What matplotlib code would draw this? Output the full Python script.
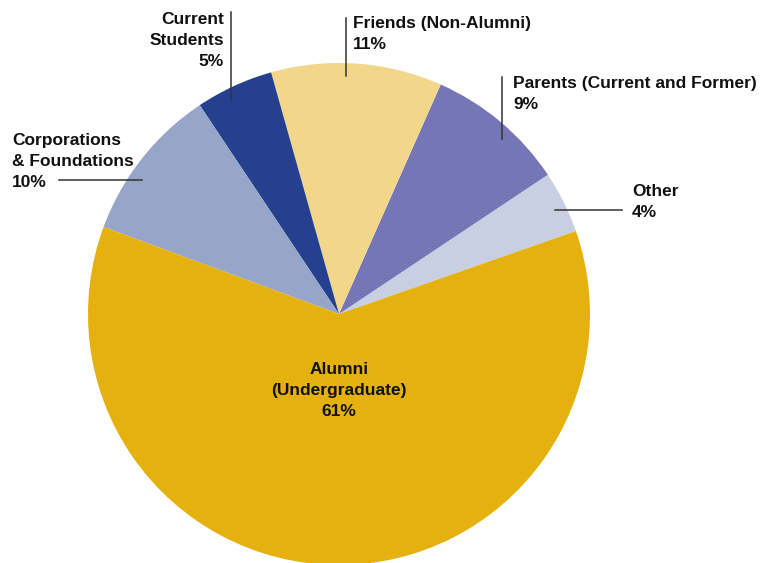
import matplotlib
matplotlib.use("Agg")
import matplotlib.pyplot as plt

# Data (counter-clockwise from the right)
labels = ["Other", "Parents (Current and Former)", "Friends (Non-Alumni)",
          "Current\nStudents", "Corporations\n& Foundations", "Alumni\n(Undergraduate)"]
values = [4, 9, 11, 5, 10, 61]
colors = ["#C8CFE3", "#7476B6", "#F2D78A", "#25408F", "#97A5C8", "#E4B10F"]

W, H = 763, 563
fig = plt.figure(figsize=(W / 100, H / 100), dpi=100)
ax = fig.add_axes([0, 0, 1, 1])

ax.pie(values, colors=colors, startangle=19.3, counterclock=True,
       center=(339, H - 314), radius=251,
       wedgeprops=dict(linewidth=0))
ax.set_xlim(0, W)
ax.set_ylim(0, H)
ax.set_aspect("equal")
ax.axis("off")

font = dict(family=["Liberation Sans", "DejaVu Sans"], fontweight="bold",
            fontsize=12.5, color="#111111", linespacing=1.5)

# label layout in pixel coords (x, y_top, ha)
text_pos = {
    "Other": (632, 184, "left"),
    "Parents (Current and Former)": (513, 76, "left"),
    "Friends (Non-Alumni)": (353, 16, "left"),
    "Current\nStudents": (224, 12, "right"),
    "Corporations\n& Foundations": (12, 133, "left"),
}
lines = {
    "Other": ((555, 622), (210, 210)),
    "Parents (Current and Former)": ((502, 502), (77, 139)),
    "Friends (Non-Alumni)": ((346, 346), (18, 76)),
    "Current\nStudents": ((231, 231), (12, 100)),
    "Corporations\n& Foundations": ((59, 142), (180, 180)),
}

for lab, val in zip(labels, values):
    txt = f"{lab}\n{val}%"
    if lab in text_pos:
        x, y, ha = text_pos[lab]
        ax.text(x, H - y, txt, ha=ha, va="top", **font)
        lx, ly = lines[lab]
        ax.plot(lx, [H - v for v in ly], color="#333333", lw=1.1)
    else:
        ax.text(339, H - 390, txt, ha="center", va="center", **font)

plt.savefig("out.png", dpi=100)
plt.close()
